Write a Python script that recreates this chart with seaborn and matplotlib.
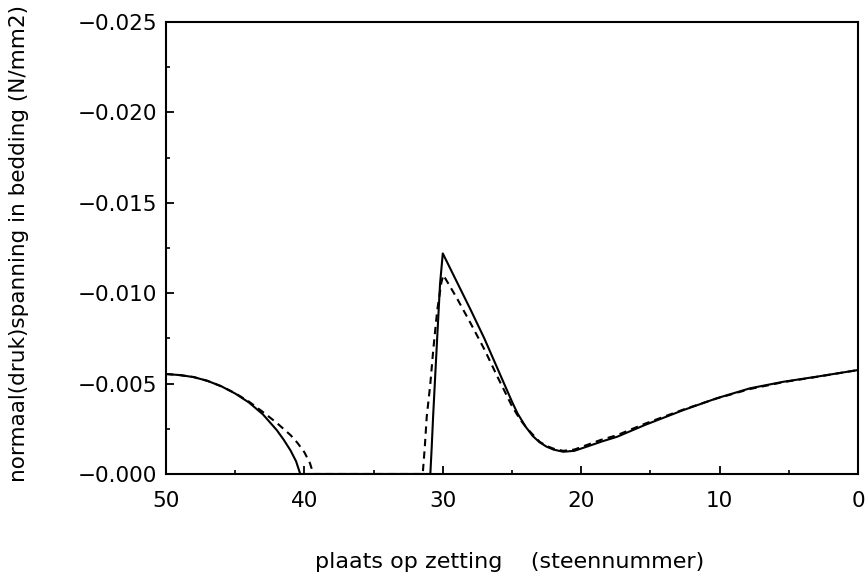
import matplotlib
matplotlib.use("Agg")
import matplotlib.pyplot as plt
import seaborn as sns
import pandas as pd
from matplotlib.ticker import MultipleLocator, FixedLocator

# Stone positions along the revetment (steennummer) and bedding stress (N/mm2)
x_solid = [50, 49, 48, 47, 46, 45, 44, 43, 42, 41.5, 41, 40.6, 40.3,
           30.9, 30.8, 30.7, 30.55, 30.4, 30.2, 30.0,
           29, 28, 27, 26, 25, 24.6, 24, 23.5, 23, 22.5, 22, 21.3, 20.5, 19.6,
           18.5, 17.4, 15.4, 12.6, 10.2, 7.8, 5.4, 3.0, 0]
y_solid = [-0.00553, -0.00547, -0.00536, -0.00515, -0.00485, -0.00445, -0.00395,
           -0.00330, -0.00243, -0.00190, -0.00130, -0.00070, 0.0,
           0.0, -0.00150, -0.00317, -0.00540, -0.00760, -0.01050, -0.01220,
           -0.01065, -0.00910, -0.00750, -0.00575, -0.00400, -0.00335, -0.00260,
           -0.00210, -0.00175, -0.00151, -0.00135, -0.00123, -0.00128, -0.00151,
           -0.00180, -0.00206, -0.00271, -0.00354, -0.00419, -0.00474, -0.00510,
           -0.00538, -0.00575]

x_dashed = [50, 49, 48, 47, 46, 45, 44, 43, 42, 41, 40.5, 40, 39.6, 39.35,
            31.45, 31.3, 31.16, 30.9, 30.69, 30.4, 30.1, 29.96,
            29, 28, 27, 26, 25, 24.4, 24, 23.5, 23, 22.5, 22, 21.3, 20.5, 19.6,
            18.6, 17.4, 15.4, 12.6, 10.2, 7.8, 5.4, 3.0, 0]
y_dashed = [-0.00553, -0.00547, -0.00536, -0.00515, -0.00485, -0.00447, -0.00400,
            -0.00343, -0.00283, -0.00215, -0.00172, -0.00120, -0.00060, 0.0,
            0.0, -0.00150, -0.00317, -0.00500, -0.00686, -0.00907, -0.01060,
            -0.01100, -0.00975, -0.00835, -0.00690, -0.00530, -0.00375, -0.00300,
            -0.00260, -0.00218, -0.00178, -0.00155, -0.00140, -0.00128, -0.00135,
            -0.00160, -0.00188, -0.00215, -0.00278, -0.00357, -0.00418, -0.00470,
            -0.00508, -0.00537, -0.00575]

x_ticks = [50, 40, 30, 20, 10, 0]
x_tick_labels = ["50", "40", "30", "20", "10", "0"]
y_ticks = [0.0, -0.005, -0.010, -0.015, -0.020, -0.025]
y_tick_labels = ["\u22120.000", "\u22120.005", "\u22120.010",
                 "\u22120.015", "\u22120.020", "\u22120.025"]

sns.set_theme(style="white")
plt.rcParams["font.family"] = ["DejaVu Sans"]
plt.rcParams["text.color"] = "black"
plt.rcParams["axes.labelcolor"] = "black"

df_solid = pd.DataFrame({"plaats": x_solid, "spanning": y_solid})
df_dashed = pd.DataFrame({"plaats": x_dashed, "spanning": y_dashed})

fig = plt.figure(figsize=(8.65, 5.76), dpi=100)
ax = fig.add_axes([0.1919, 0.1771, 0.8000, 0.7847])

sns.lineplot(data=df_solid, x="plaats", y="spanning", ax=ax, sort=False,
             color="black", linewidth=1.5, estimator=None)
sns.lineplot(data=df_dashed, x="plaats", y="spanning", ax=ax, sort=False,
             color="black", linewidth=1.5, estimator=None, linestyle=(0, (3.5, 2.5)))

ax.set_xlim(50, 0)
ax.set_ylim(0.0, -0.025)

ax.xaxis.set_major_locator(FixedLocator(x_ticks))
ax.set_xticklabels(x_tick_labels)
ax.xaxis.set_minor_locator(MultipleLocator(5))
ax.yaxis.set_major_locator(FixedLocator(y_ticks))
ax.set_yticklabels(y_tick_labels)
ax.yaxis.set_minor_locator(MultipleLocator(0.0025))

ax.tick_params(axis="both", which="both", direction="in", colors="black",
               labelcolor="black", labelsize=15.5)
ax.tick_params(axis="both", which="major", length=6, width=1.3)
ax.tick_params(axis="both", which="minor", length=3, width=1.2)
ax.tick_params(axis="x", which="both", bottom=True, top=False, pad=12)
ax.tick_params(axis="y", which="both", left=True, right=False, pad=6.5)

for side in ["left", "right", "top", "bottom"]:
    ax.spines[side].set_visible(True)
    ax.spines[side].set_color("black")
    ax.spines[side].set_linewidth(1.5)

ax.set_xlabel("plaats op zetting    (steennummer)", fontsize=16, color="black")
ax.xaxis.set_label_coords(0.496, -0.172)
ax.set_ylabel("normaal(druk)spanning in bedding (N/mm2)", fontsize=15.5, color="black")
ax.yaxis.set_label_coords(-0.198, 0.509)

fig.savefig("out.png", dpi=100, facecolor="white")
